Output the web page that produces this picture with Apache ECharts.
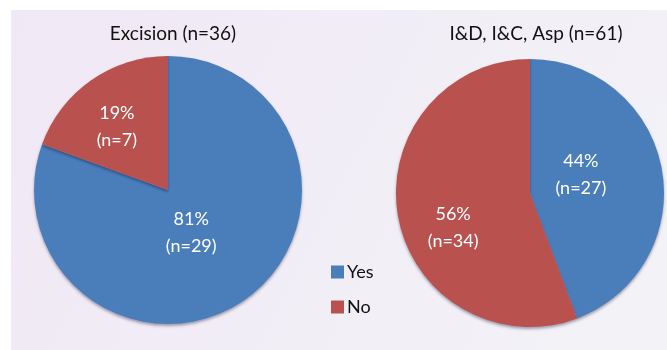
<!DOCTYPE html>
<html><head><meta charset="utf-8">
<script src="https://cdn.jsdelivr.net/npm/echarts@6/dist/echarts.min.js"></script>
<style>html,body{margin:0;padding:0;background:#fff}#c{width:667px;height:350px}</style>
</head><body><div id="c"></div>
<script>
const categories = ['Yes', 'No'];
const excisionCounts = [29, 7];
const excisionPct = [81, 19];
const idCounts = [27, 34];
const idPct = [44, 56];
const titles = ['Excision (n=36)', 'I&D, I&C, Asp (n=61)'];
const colors = ['#4a7ebb', '#b9514f'];

// label nudges (styling only)
const shiftLeft = [[-17, -15], [-11, -6]];
const shiftRight = [[-18, -6], [-8, 22]];

const font = 'Lato, "Open Sans", sans-serif';
function mk(counts, pct) {
  return categories.map((c, i) => ({ name: c, value: counts[i], pct: pct[i] }));
}
const chart = echarts.init(document.getElementById('c'));
const labelStyle = {
  show: true, position: 'inside', color: '#fff', fontSize: 18, fontFamily: font, lineHeight: 27,
  formatter: p => p.data.pct + '%\n(n=' + p.data.value + ')'
};
function layoutFn(shift) {
  return p => ({ dx: shift[p.dataIndex][0], dy: shift[p.dataIndex][1] });
}
const shadow = { shadowColor: 'rgba(0,0,40,0.35)', shadowBlur: 3, shadowOffsetY: 2 };
chart.setOption({
  animation: false,
  color: colors,
  graphic: [{
    type: 'rect', left: 11, top: 10, z: -10,
    shape: { width: 656, height: 340 },
    style: { fill: new echarts.graphic.LinearGradient(0, 0, 1, 1, [
      { offset: 0, color: '#f0e8f5' }, { offset: 1, color: '#f3f3f7' }]) }
  }],
  title: [
    { text: titles[0], left: 168, top: 19, textAlign: 'center',
      textStyle: { fontFamily: font, fontSize: 19, fontWeight: 'normal', color: '#111' } },
    { text: titles[1], left: 531, top: 19, textAlign: 'center',
      textStyle: { fontFamily: font, fontSize: 19, fontWeight: 'normal', color: '#111' } }
  ],
  legend: {
    orient: 'vertical', left: 326, top: 258, itemWidth: 13, itemHeight: 13, itemGap: 17,
    icon: 'rect', data: categories,
    textStyle: { fontFamily: font, fontSize: 18, color: '#111', padding: [0, 0, 0, -2] }
  },
  series: [
    { type: 'pie', center: [168, 190], radius: 134, startAngle: 90, clockwise: true,
      data: mk(excisionCounts, excisionPct), label: labelStyle, labelLine: { show: false },
      labelLayout: layoutFn(shiftLeft),
      itemStyle: shadow, emphasis: { disabled: true } },
    { type: 'pie', center: [530, 193], radius: 134, startAngle: 90, clockwise: true,
      data: mk(idCounts, idPct), label: labelStyle, labelLine: { show: false },
      labelLayout: layoutFn(shiftRight),
      itemStyle: shadow, emphasis: { disabled: true } }
  ]
});
</script></body></html>
